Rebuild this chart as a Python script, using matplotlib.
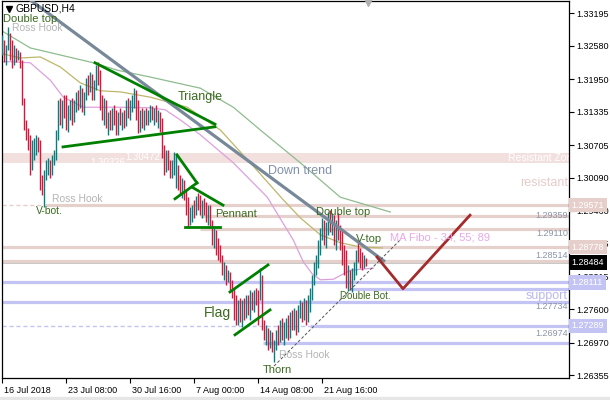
import matplotlib
matplotlib.use('Agg')
import matplotlib.pyplot as plt
import matplotlib.transforms as mtrans
from matplotlib.patches import Rectangle

plt.rcParams['font.family'] = ['Liberation Sans', 'DejaVu Sans']

# ---------------- data (H4 GBPUSD bars) ----------------
first_open = 1.3250
highs = [1.3278, 1.3269, 1.3260, 1.3294, 1.3282, 1.3269, 1.3260, 1.3254, 1.3250, 1.3246,
         1.3231, 1.3160, 1.3118, 1.3103, 1.3090, 1.3080, 1.3084, 1.3090, 1.3086, 1.3080,
         1.3014, 1.3023, 1.3042, 1.3046, 1.3042, 1.3052, 1.3061, 1.3099, 1.3156, 1.3159,
         1.3156, 1.3165, 1.3165, 1.3146, 1.3156, 1.3159, 1.3156, 1.3171, 1.3175, 1.3184,
         1.3178, 1.3171, 1.3197, 1.3203, 1.3208, 1.3205, 1.3193, 1.3222, 1.3227, 1.3212,
         1.3165, 1.3159, 1.3156, 1.3133, 1.3137, 1.3141, 1.3146, 1.3137, 1.3133, 1.3141,
         1.3133, 1.3137, 1.3156, 1.3159, 1.3156, 1.3165, 1.3178, 1.3175, 1.3156, 1.3137,
         1.3141, 1.3137, 1.3141, 1.3137, 1.3146, 1.3144, 1.3141, 1.3146, 1.3137, 1.3133,
         1.3122, 1.3071, 1.3061, 1.3061, 1.3042, 1.3042, 1.3057, 1.3052, 1.3033, 1.3014,
         1.3008, 1.3004, 1.2986, 1.2972, 1.2954, 1.2957, 1.2967, 1.2974, 1.2980, 1.2976,
         1.2967, 1.2971, 1.2963, 1.2957, 1.2957, 1.2929, 1.2914, 1.2910, 1.2895, 1.2882,
         1.2863, 1.2849, 1.2844, 1.2834, 1.2831, 1.2816, 1.2801, 1.2787, 1.2778, 1.2782,
         1.2778, 1.2782, 1.2787, 1.2787, 1.2797, 1.2793, 1.2797, 1.2801, 1.2797, 1.2838,
         1.2825, 1.2740, 1.2731, 1.2725, 1.2721, 1.2717, 1.2702, 1.2721, 1.2731, 1.2740,
         1.2744, 1.2736, 1.2744, 1.2749, 1.2755, 1.2759, 1.2763, 1.2759, 1.2768, 1.2778,
         1.2774, 1.2782, 1.2778, 1.2787, 1.2801, 1.2825, 1.2849, 1.2863, 1.2891, 1.2914,
         1.2933, 1.2929, 1.2925, 1.2944, 1.2948, 1.2942, 1.2938, 1.2929, 1.2942, 1.2919,
         1.2910, 1.2882, 1.2872, 1.2844, 1.2834, 1.2838, 1.2849, 1.2872, 1.2891, 1.2876,
         1.2868, 1.2863, 1.2857]
lows = [1.3241, 1.3227, 1.3222, 1.3250, 1.3231, 1.3216, 1.3222, 1.3227, 1.3231, 1.3216,
        1.3146, 1.3099, 1.3080, 1.3061, 1.3014, 1.3023, 1.3042, 1.3052, 1.3057, 1.2986,
        1.2976, 1.2953, 1.3004, 1.3014, 1.3008, 1.3014, 1.3033, 1.3042, 1.3080, 1.3108,
        1.3103, 1.3122, 1.3099, 1.3095, 1.3118, 1.3108, 1.3114, 1.3133, 1.3137, 1.3141,
        1.3133, 1.3127, 1.3156, 1.3165, 1.3171, 1.3156, 1.3156, 1.3175, 1.3184, 1.3137,
        1.3118, 1.3108, 1.3103, 1.3090, 1.3099, 1.3099, 1.3108, 1.3090, 1.3090, 1.3108,
        1.3099, 1.3103, 1.3106, 1.3122, 1.3118, 1.3133, 1.3141, 1.3118, 1.3093, 1.3095,
        1.3103, 1.3099, 1.3108, 1.3108, 1.3114, 1.3118, 1.3108, 1.3114, 1.3103, 1.3095,
        1.3046, 1.3014, 1.3019, 1.3023, 1.3008, 1.3008, 1.3014, 1.2990, 1.2986, 1.2976,
        1.2971, 1.2967, 1.2938, 1.2916, 1.2920, 1.2925, 1.2933, 1.2938, 1.2948, 1.2938,
        1.2933, 1.2938, 1.2925, 1.2919, 1.2914, 1.2882, 1.2876, 1.2863, 1.2853, 1.2849,
        1.2825, 1.2816, 1.2806, 1.2812, 1.2797, 1.2782, 1.2740, 1.2731, 1.2731, 1.2736,
        1.2727, 1.2740, 1.2744, 1.2749, 1.2740, 1.2759, 1.2755, 1.2768, 1.2731, 1.2778,
        1.2721, 1.2702, 1.2693, 1.2683, 1.2687, 1.2680, 1.2661, 1.2683, 1.2693, 1.2698,
        1.2702, 1.2693, 1.2706, 1.2702, 1.2706, 1.2721, 1.2721, 1.2712, 1.2717, 1.2744,
        1.2736, 1.2740, 1.2731, 1.2736, 1.2755, 1.2778, 1.2806, 1.2825, 1.2838, 1.2863,
        1.2891, 1.2882, 1.2876, 1.2901, 1.2906, 1.2901, 1.2882, 1.2872, 1.2891, 1.2872,
        1.2844, 1.2825, 1.2801, 1.2795, 1.2797, 1.2793, 1.2816, 1.2825, 1.2849, 1.2838,
        1.2834, 1.2838, 1.2842]
closes = [1.3260, 1.3235, 1.3254, 1.3278, 1.3241, 1.3227, 1.3250, 1.3237, 1.3244, 1.3224,
          1.3156, 1.3108, 1.3090, 1.3080, 1.3027, 1.3071, 1.3076, 1.3080, 1.3065, 1.2995,
          1.2986, 1.3008, 1.3033, 1.3039, 1.3023, 1.3046, 1.3052, 1.3090, 1.3137, 1.3118,
          1.3146, 1.3133, 1.3108, 1.3137, 1.3146, 1.3122, 1.3146, 1.3163, 1.3146, 1.3175,
          1.3141, 1.3165, 1.3189, 1.3175, 1.3201, 1.3165, 1.3184, 1.3216, 1.3193, 1.3146,
          1.3127, 1.3146, 1.3110, 1.3118, 1.3105, 1.3133, 1.3122, 1.3099, 1.3127, 1.3114,
          1.3127, 1.3108, 1.3148, 1.3141, 1.3150, 1.3156, 1.3171, 1.3127, 1.3103, 1.3127,
          1.3108, 1.3131, 1.3118, 1.3133, 1.3141, 1.3125, 1.3137, 1.3122, 1.3129, 1.3103,
          1.3057, 1.3023, 1.3046, 1.3033, 1.3027, 1.3037, 1.3048, 1.3050, 1.2995, 1.2986,
          1.2997, 1.2974, 1.2948, 1.2925, 1.2944, 1.2952, 1.2938, 1.2967, 1.2957, 1.2944,
          1.2961, 1.2948, 1.2933, 1.2952, 1.2919, 1.2891, 1.2901, 1.2872, 1.2863, 1.2857,
          1.2834, 1.2838, 1.2816, 1.2825, 1.2806, 1.2787, 1.2749, 1.2744, 1.2768, 1.2755,
          1.2770, 1.2759, 1.2778, 1.2759, 1.2787, 1.2768, 1.2787, 1.2778, 1.2740, 1.2825,
          1.2731, 1.2712, 1.2721, 1.2693, 1.2712, 1.2687, 1.2693, 1.2712, 1.2702, 1.2731,
          1.2712, 1.2725, 1.2736, 1.2712, 1.2748, 1.2729, 1.2755, 1.2721, 1.2763, 1.2768,
          1.2744, 1.2774, 1.2740, 1.2778, 1.2793, 1.2816, 1.2842, 1.2849, 1.2882, 1.2906,
          1.2919, 1.2891, 1.2914, 1.2933, 1.2914, 1.2933, 1.2891, 1.2919, 1.2901, 1.2882,
          1.2853, 1.2834, 1.2810, 1.2825, 1.2806, 1.2831, 1.2842, 1.2863, 1.2857, 1.2849,
          1.2842, 1.2855, 1.28484]

date_ticks = [0, 32, 64, 96, 128, 160]
date_labels = ['16 Jul 2018', '23 Jul 08:00', '30 Jul 16:00', '7 Aug 00:00',
               '14 Aug 08:00', '21 Aug 16:00']
price_ticks = [1.33195, 1.32580, 1.31950, 1.31335, 1.30705, 1.30090, 1.29460,
               1.28845, 1.28215, 1.27600, 1.26970, 1.26355]

# moving averages (MA Fibo 34 / 55 / 89), sampled along the drawn curves
ma89_x = [-1, 14, 45.5, 57.5, 74, 99, 115.5, 129, 149, 169, 194]
ma89_y = [1.3288, 1.3254, 1.3226, 1.3212, 1.3199, 1.3178, 1.3142, 1.3099, 1.3037, 1.2972, 1.2944]
ma55_x = [-1, 9, 19, 29, 39, 49, 59, 74, 92.5, 109, 124, 140.5, 149, 159, 169, 179, 190]
ma55_y = [1.3244, 1.3235, 1.3237, 1.3218, 1.3188, 1.3173, 1.3171, 1.3161, 1.3142, 1.3099,
          1.3037, 1.2967, 1.2933, 1.2901, 1.2886, 1.2878, 1.2876]
ma34_x = [-1, 4, 14, 24, 30.5, 40.5, 57.5, 74, 81.5, 89, 99, 115.5, 132.5, 145.5, 150.5, 155, 159, 165.5, 174, 185.5]
ma34_y = [1.3228, 1.3228, 1.3226, 1.3193, 1.3161, 1.3142, 1.3142, 1.3141, 1.3137, 1.3118,
          1.3090, 1.3037, 1.2972, 1.2891, 1.2850, 1.2827, 1.2816, 1.2817, 1.2834, 1.2838]

# drawn objects
trend_x, trend_y = [13.85, 191.35], [1.3345, 1.2850]
proj_x, proj_y = [187.35, 200.35, 233.85], [1.2859, 1.2799, 1.2938]
chan_x, chan_y = [135.85, 198.85], [1.2653, 1.2891]
green_segments = [
    ([46.35, 106.35], [1.3226, 1.3110]),   # triangle upper
    ([30.35, 106.35], [1.3067, 1.3105]),   # triangle lower
    ([87.35, 97.35], [1.3052, 1.2999]),
    ([86.35, 97.35], [1.2969, 1.2999]),
    ([94.85, 110.35], [1.2991, 1.2957]),   # pennant
    ([91.35, 108.85], [1.2916, 1.2916]),
    ([113.85, 132.85], [1.2793, 1.2844]),  # flag
    ([116.35, 133.85], [1.2712, 1.2759]),
]
zone_low, zone_high = 1.3037, 1.3055
pink_levels = [1.29571, 1.29359, 1.29110, 1.28778, 1.28514]
pink_starts = [21.35, 99, 99, -1, -1]
blue_levels = [1.28111, 1.27985, 1.27734, 1.27289, 1.26974]
blue_starts = [-1, 174, -1, 154, 130.35]
last_price = 1.28484

XMIN, XMAX = -0.15, 283.35
YMIN, YMAX = 1.26304, 1.33427

fig = plt.figure(figsize=(6.1, 4.0), dpi=100)
fig.patches.append(Rectangle((0, 0), 1, 3 / 400, transform=fig.transFigure,
                             color='#e6e6e6', zorder=0))
ax = fig.add_axes([2 / 610, 22 / 400, 567 / 610, 377 / 400])
ax.set_xlim(XMIN, XMAX)
ax.set_ylim(YMIN, YMAX)

# resistant zone band
ax.axhspan(zone_low, zone_high, color='#f1e0de', lw=0, zorder=0.5)

PINK = '#e6d0cc'
BLUE = '#c4c4f4'
for i, (lv, st) in enumerate(zip(pink_levels, pink_starts)):
    if i == 0:
        ax.plot([XMIN, st], [lv, lv], color=PINK, lw=1.0, ls=(0, (3, 2)), zorder=1)
    ax.plot([st, XMAX], [lv, lv], color=PINK, lw=2.3, zorder=1, solid_capstyle='butt')
for i, (lv, st) in enumerate(zip(blue_levels, blue_starts)):
    if i == 3:
        ax.plot([XMIN, st], [lv, lv], color=BLUE, lw=1.0, ls=(0, (3, 2)), zorder=1)
    ax.plot([st, XMAX], [lv, lv], color=BLUE, lw=2.3, zorder=1, solid_capstyle='butt')
ax.axhline(last_price, color='#c8c8c8', lw=0.7, zorder=1)

# MAs
ax.plot(ma89_x, ma89_y, color='#8fbc8f', lw=0.9, zorder=2)
ax.plot(ma55_x, ma55_y, color='#bdb76b', lw=0.9, zorder=2)
ax.plot(ma34_x, ma34_y, color='#dda0dd', lw=0.9, zorder=2)

# bars
opens = [first_open] + closes[:-1]
xs = list(range(len(closes)))
cols = ['#008080' if c >= o else '#dc143c' for o, c in zip(opens, closes)]
ax.vlines(xs, lows, highs, colors=cols, lw=1.0, zorder=3)

# drawn lines
ax.plot(trend_x, trend_y, color='#778899', lw=2.3, zorder=4, solid_capstyle='butt')
for sx, sy in green_segments:
    ax.plot(sx, sy, color='#008000', lw=2.0, zorder=4)
ax.plot(proj_x, proj_y, color='#a52a2a', lw=2.0, zorder=4)
ax.plot(chan_x, chan_y, color='#555555', lw=0.7, ls=(0, (3, 2)), zorder=4)

# texts
PAT = '#3a6a1e'
GRAY = '#b4b4b4'
def t(x, y, s, c, fs=7.5, ha='left', **kw):
    ax.text(x, y, s, color=c, fontsize=fs, ha=ha, va='center', zorder=6, **kw)

t(0.35, 1.3309, 'Double top', PAT, 8)
t(4.85, 1.3292, 'Ross Hook', GRAY, 7.5)
t(24.85, 1.2969, 'Ross Hook', GRAY, 7.5)
t(16.85, 1.2946, 'V-bot.', PAT, 7.5)
t(87.85, 1.3161, 'Triangle', PAT, 9)
t(132.85, 1.3022, 'Down trend', '#8090ac', 9)
t(106.35, 1.2940, 'Pennant', PAT, 8)
t(156.85, 1.2944, 'Double top', PAT, 8)
t(176.85, 1.2893, 'V-top', PAT, 8)
t(193.85, 1.2895, 'MA Fibo - 34; 55; 89', '#e8a8e8', 8)
t(168.85, 1.2785, 'Double Bot.', PAT, 7)
t(100.85, 1.2753, 'Flag', PAT, 10)
t(138.35, 1.2674, 'Ross Hook', GRAY, 7.5)
t(130.35, 1.2646, 'Thorn', PAT, 8)
t(287.85, 1.3046, 'Resistant Zone', 'white', 7.5, ha='right', clip_on=True)
t(43.85, 1.3037, '1.30326', 'white', 7)
t(61.35, 1.3048, '1.30472', 'white', 7)
t(282.85, 1.2998, 'resistant', '#e6ccc8', 9, ha='right')
t(282.85, 1.2785, 'support', '#b8b8f0', 9, ha='right')
for yy, s in [(1.2937, '1.29359'), (1.2904, '1.29110'), (1.2861, '1.28514'),
              (1.2766, '1.27734'), (1.2715, '1.26974')]:
    t(282.85, yy, s, '#8a94a8', 6.5, ha='right')

# title
ax.plot([0.0115], [0.979], marker='v', color='black', ms=4, transform=ax.transAxes,
        clip_on=False, zorder=7)
ax.text(0.0245, 0.979, 'GBPUSD,H4', transform=ax.transAxes, fontsize=7.5,
        va='center', ha='left', color='black', zorder=7)
ax.plot([0.6455], [0.995], marker='v', color='#b0b0b0', ms=5, transform=ax.transAxes,
        clip_on=False, zorder=7)

# axes styling
for sp in ax.spines.values():
    sp.set_color('black')
    sp.set_linewidth(0.9)
ax.yaxis.tick_right()
ax.set_yticks(price_ticks)
ax.set_yticklabels(['%.5f' % p for p in price_ticks])
ax.tick_params(axis='y', direction='out', length=3.5, width=0.8, labelsize=6.5, pad=2)
ax.set_xticks(date_ticks)
ax.set_xticklabels(date_labels)
ax.tick_params(axis='x', direction='out', length=3.5, width=0.8, labelsize=6.5, pad=2)
off = mtrans.ScaledTranslation(1.5 / 72, 0, fig.dpi_scale_trans)
for lab in ax.get_xticklabels():
    lab.set_ha('left')
    lab.set_transform(lab.get_transform() + off)

# price boxes on the axis
ytr = ax.get_yaxis_transform()
for pv, fc in [(1.29571, '#e6cfcb'), (1.28778, '#e6cfcb'), (last_price, 'black'),
               (1.28111, '#c4c4f4'), (1.27289, '#c4c4f4')]:
    ax.text(1.0045, pv, '%.5f' % pv, transform=ytr, ha='left', va='center',
            color='white', fontsize=6.5, clip_on=False, zorder=8,
            bbox=dict(boxstyle='square,pad=0.3', fc=fc, ec='none'))

fig.savefig('out.png', dpi=100, facecolor='white')
